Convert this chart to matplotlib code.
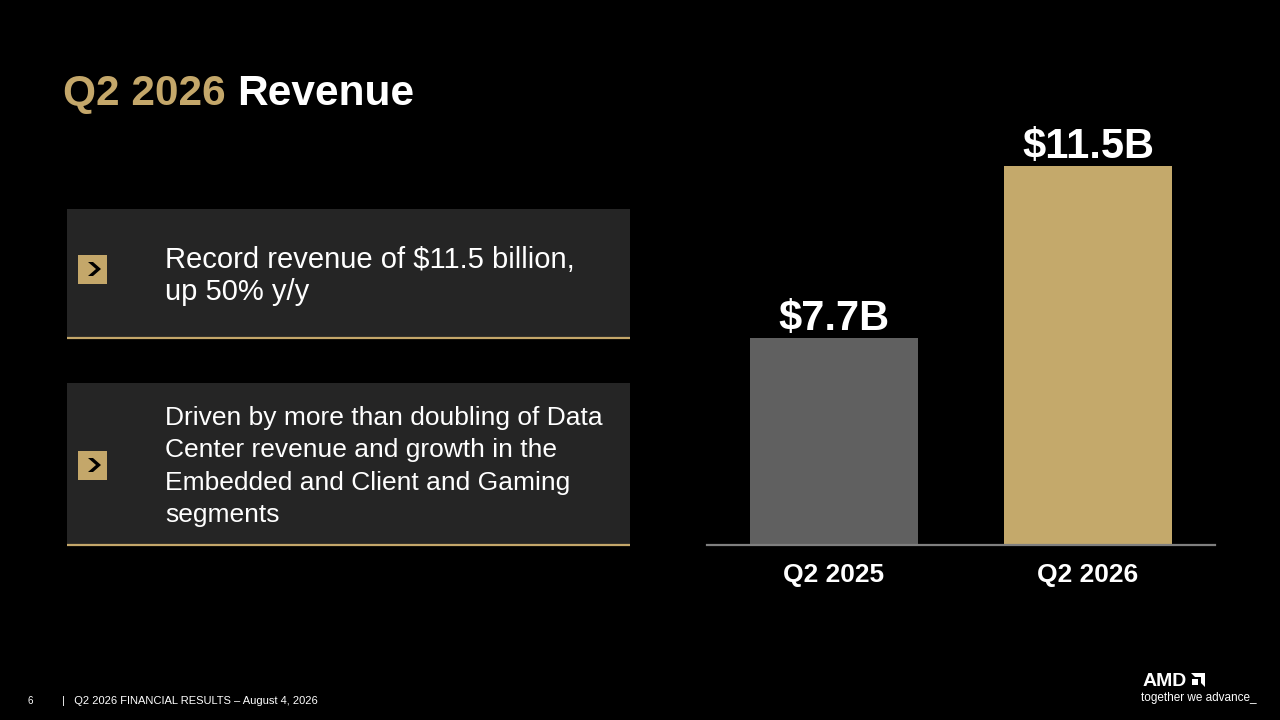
import matplotlib.pyplot as plt
from matplotlib.patches import Rectangle, Polygon

plt.rcParams['font.family'] = ['Liberation Sans', 'DejaVu Sans']

# chart data
quarters = ['Q2 2025', 'Q2 2026']
revenue = [7.7, 11.5]  # $B
value_labels = ['$7.7B', '$11.5B']
bar_colors = ['#606060', '#C4A96B']

# bullet text
bullet1 = ['Record revenue of $11.5 billion,', 'up 50% y/y']
bullet2 = ['Driven by more than doubling of Data',
           'Center revenue and growth in the',
           'Embedded and Client and Gaming',
           'segments']

gold = '#C4A76A'
panel = '#252525'

fig = plt.figure(figsize=(12.8, 7.2), dpi=100, facecolor='black')

# background layer in pixel coordinates
bg = fig.add_axes([0, 0, 1, 1])
bg.set_xlim(0, 1280)
bg.set_ylim(720, 0)
bg.axis('off')
bg.set_zorder(0)

# title
t1 = bg.text(63, 105, 'Q2 2026 ', color=gold, fontsize=30.5, fontweight='bold', va='baseline')
fig.canvas.draw()
r = fig.canvas.get_renderer()
w = t1.get_window_extent(renderer=r).width
bg.text(63 + w, 105, 'Revenue', color='white', fontsize=30.5, fontweight='bold', va='baseline')


def panel_box(y0, y1, icon_y, lines, first_base, size, step):
    bg.add_patch(Rectangle((67, y0), 563, y1 - y0, facecolor=panel, edgecolor='none'))
    bg.plot([67, 630], [y1, y1], color=gold, lw=1.6, solid_capstyle='butt')
    bg.add_patch(Rectangle((78, icon_y - 14.5), 29, 29, facecolor=gold, edgecolor='none'))
    cx = 95
    chev = [(cx - 7, icon_y - 7), (cx - 2, icon_y - 7), (cx + 6, icon_y),
            (cx - 2, icon_y + 7), (cx - 7, icon_y + 7), (cx + 1, icon_y)]
    bg.add_patch(Polygon(chev, closed=True, facecolor='black', edgecolor='none'))
    for i, line in enumerate(lines):
        bg.text(165, first_base + i * step, line, color='white', fontsize=size, va='baseline')


panel_box(209, 338, 269, bullet1, 268, 21, 32.5)
panel_box(383, 545, 465, bullet2, 425, 19, 32.4)

# footer
bg.text(27, 704, '6', color='white', fontsize=7, va='baseline')
bg.text(62, 704, '|   Q2 2026 FINANCIAL RESULTS \u2013 August 4, 2026', color='white',
        fontsize=8, va='baseline')
bg.text(1143, 686, 'AMD', color='white', fontsize=14, fontweight='bold', va='baseline')
logo = [(1191, 673), (1205, 673), (1205, 687), (1201, 683), (1201, 677), (1195, 677)]
bg.add_patch(Polygon(logo, closed=True, facecolor='white', edgecolor='none'))
bg.add_patch(Polygon([(1192, 679), (1198, 679), (1198, 685), (1192, 685)],
                     closed=True, facecolor='white', edgecolor='none'))
bg.text(1141, 701, 'together we advance_', color='white', fontsize=8.5, va='baseline')

# bar chart
ax = fig.add_axes([707 / 1280, 175 / 720, 508 / 1280, 445 / 720])
ax.set_zorder(1)
ax.patch.set_alpha(0)
x = range(len(quarters))
bars = ax.bar(x, revenue, width=0.662, color=bar_colors)
ax.bar_label(bars, labels=value_labels, color='white', fontsize=30,
             fontweight='bold', padding=-1)
ax.set_xlim(-0.5, 1.5)
ax.set_ylim(3.127, 12.96)
ax.set_xticks(list(x), quarters)
ax.tick_params(axis='x', length=0, pad=13, labelsize=19, labelcolor='white')
for lab in ax.get_xticklabels():
    lab.set_fontweight('bold')
ax.set_yticks([])
for s in ['top', 'left', 'right']:
    ax.spines[s].set_visible(False)
ax.spines['bottom'].set_color('#7f7f7f')
ax.spines['bottom'].set_linewidth(1.6)

fig.savefig('out.png', dpi=100, facecolor='black')
